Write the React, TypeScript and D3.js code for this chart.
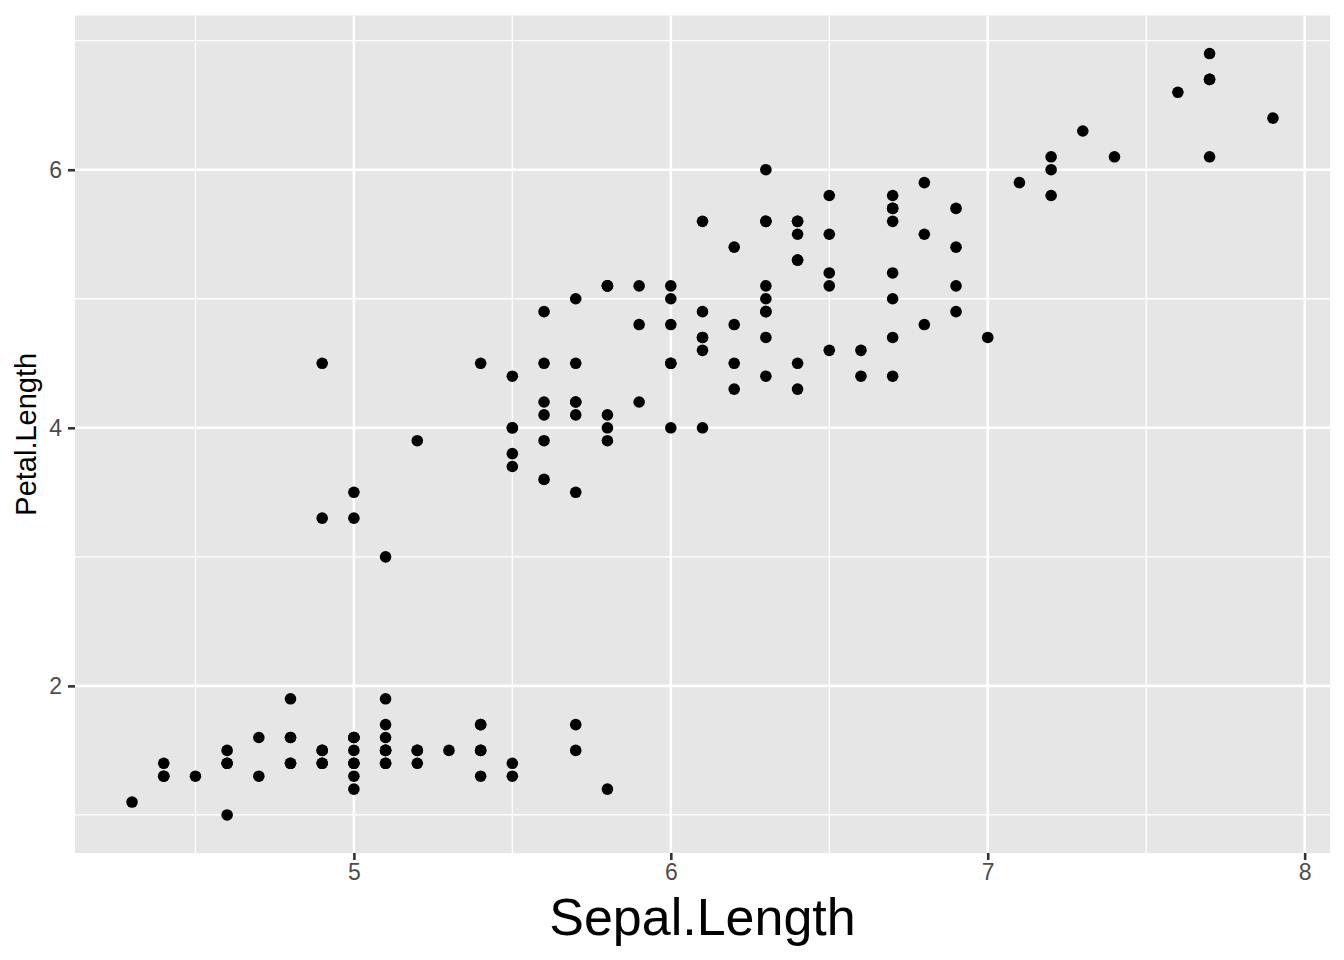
import { useEffect, useRef } from "react";
import * as d3 from "d3";

// iris: Sepal.Length vs Petal.Length
const sepalLength = [
  5.1, 4.9, 4.7, 4.6, 5.0, 5.4, 4.6, 5.0, 4.4, 4.9, 5.4, 4.8, 4.8, 4.3, 5.8, 5.7, 5.4, 5.1, 5.7, 5.1,
  5.4, 5.1, 4.6, 5.1, 4.8, 5.0, 5.0, 5.2, 5.2, 4.7, 4.8, 5.4, 5.2, 5.5, 4.9, 5.0, 5.5, 4.9, 4.4, 5.1,
  5.0, 4.5, 4.4, 5.0, 5.1, 4.8, 5.1, 4.6, 5.3, 5.0,
  7.0, 6.4, 6.9, 5.5, 6.5, 5.7, 6.3, 4.9, 6.6, 5.2, 5.0, 5.9, 6.0, 6.1, 5.6, 6.7, 5.6, 5.8, 6.2, 5.6,
  5.9, 6.1, 6.3, 6.1, 6.4, 6.6, 6.8, 6.7, 6.0, 5.7, 5.5, 5.5, 5.8, 6.0, 5.4, 6.0, 6.7, 6.3, 5.6, 5.5,
  5.5, 6.1, 5.8, 5.0, 5.6, 5.7, 5.7, 6.2, 5.1, 5.7,
  6.3, 5.8, 7.1, 6.3, 6.5, 7.6, 4.9, 7.3, 6.7, 7.2, 6.5, 6.4, 6.8, 5.7, 5.8, 6.4, 6.5, 7.7, 7.7, 6.0,
  6.9, 5.6, 7.7, 6.3, 6.7, 7.2, 6.2, 6.1, 6.4, 7.2, 7.4, 7.9, 6.4, 6.3, 6.1, 7.7, 6.3, 6.4, 6.0, 6.9,
  6.7, 6.9, 5.8, 6.8, 6.7, 6.7, 6.3, 6.5, 6.2, 5.9,
];

const petalLength = [
  1.4, 1.4, 1.3, 1.5, 1.4, 1.7, 1.4, 1.5, 1.4, 1.5, 1.5, 1.6, 1.4, 1.1, 1.2, 1.5, 1.3, 1.4, 1.7, 1.5,
  1.7, 1.5, 1.0, 1.7, 1.9, 1.6, 1.6, 1.5, 1.4, 1.6, 1.6, 1.5, 1.5, 1.4, 1.5, 1.2, 1.3, 1.4, 1.3, 1.5,
  1.3, 1.3, 1.3, 1.6, 1.9, 1.4, 1.6, 1.4, 1.5, 1.4,
  4.7, 4.5, 4.9, 4.0, 4.6, 4.5, 4.7, 3.3, 4.6, 3.9, 3.5, 4.2, 4.0, 4.7, 3.6, 4.4, 4.5, 4.1, 4.5, 3.9,
  4.8, 4.0, 4.9, 4.7, 4.3, 4.4, 4.8, 5.0, 4.5, 3.5, 3.8, 3.7, 3.9, 5.1, 4.5, 4.5, 4.7, 4.4, 4.1, 4.0,
  4.4, 4.6, 4.0, 3.3, 4.2, 4.2, 4.2, 4.3, 3.0, 4.1,
  6.0, 5.1, 5.9, 5.6, 5.8, 6.6, 4.5, 6.3, 5.8, 6.1, 5.1, 5.3, 5.5, 5.0, 5.1, 5.3, 5.5, 6.7, 6.9, 5.0,
  5.7, 4.9, 6.7, 4.9, 5.7, 6.0, 4.8, 4.9, 5.6, 5.8, 6.1, 6.4, 5.6, 5.1, 5.6, 6.1, 5.6, 5.5, 4.8, 5.4,
  5.6, 5.1, 5.1, 5.9, 5.7, 5.2, 5.0, 5.2, 5.4, 5.1,
];

const xTicks = [5, 6, 7, 8];
const xMinor = [4.5, 5.5, 6.5, 7.5];
const yTicks = [2, 4, 6];
const yMinor = [1, 3, 5, 7];

const App = () => {
  const svgRef = useRef<SVGSVGElement>(null);

  useEffect(() => {
    if (!svgRef.current) return;
    const svg = d3.select(svgRef.current);
    svg.selectAll("*").remove();

    const width = 1344;
    const height = 960;
    const panel = { left: 75, right: 1330, top: 15.5, bottom: 853 };
    const font = "Liberation Sans, Arial, Helvetica, sans-serif";

    const pts = sepalLength.map((x, i) => ({ x, y: petalLength[i] }));

    const [xmin, xmax] = d3.extent(sepalLength) as [number, number];
    const [ymin, ymax] = d3.extent(petalLength) as [number, number];
    const xPad = (xmax - xmin) * 0.05;
    const yPad = (ymax - ymin) * 0.05;

    const x = d3
      .scaleLinear()
      .domain([xmin - xPad, xmax + xPad])
      .range([panel.left, panel.right]);
    const y = d3
      .scaleLinear()
      .domain([ymin - yPad, ymax + yPad])
      .range([panel.bottom, panel.top]);

    svg.attr("viewBox", `0 0 ${width} ${height}`);

    svg
      .append("rect")
      .attr("width", width)
      .attr("height", height)
      .attr("fill", "#ffffff");

    // panel background
    svg
      .append("rect")
      .attr("x", panel.left)
      .attr("y", panel.top)
      .attr("width", panel.right - panel.left)
      .attr("height", panel.bottom - panel.top)
      .attr("fill", "#e6e6e6");

    const grid = svg.append("g").attr("stroke", "#ffffff");

    // minor grid
    grid
      .selectAll("line.xminor")
      .data(xMinor)
      .join("line")
      .attr("x1", (d) => x(d))
      .attr("x2", (d) => x(d))
      .attr("y1", panel.top)
      .attr("y2", panel.bottom)
      .attr("stroke-width", 1.3);
    grid
      .selectAll("line.yminor")
      .data(yMinor)
      .join("line")
      .attr("x1", panel.left)
      .attr("x2", panel.right)
      .attr("y1", (d) => y(d))
      .attr("y2", (d) => y(d))
      .attr("stroke-width", 1.3);

    // major grid
    grid
      .selectAll("line.xmajor")
      .data(xTicks)
      .join("line")
      .attr("x1", (d) => x(d))
      .attr("x2", (d) => x(d))
      .attr("y1", panel.top)
      .attr("y2", panel.bottom)
      .attr("stroke-width", 2.6);
    grid
      .selectAll("line.ymajor")
      .data(yTicks)
      .join("line")
      .attr("x1", panel.left)
      .attr("x2", panel.right)
      .attr("y1", (d) => y(d))
      .attr("y2", (d) => y(d))
      .attr("stroke-width", 2.6);

    // points
    svg
      .append("g")
      .selectAll("circle")
      .data(pts)
      .join("circle")
      .attr("cx", (d) => x(d.x))
      .attr("cy", (d) => y(d.y))
      .attr("r", 5.8)
      .attr("fill", "#000000");

    // x axis
    const xAxis = svg
      .append("g")
      .attr("transform", `translate(0,${panel.bottom})`)
      .call(d3.axisBottom(x).tickValues(xTicks).tickSize(7).tickPadding(4).tickFormat(d3.format("d")));
    xAxis.select(".domain").remove();
    xAxis.selectAll(".tick line").attr("stroke", "#333333").attr("stroke-width", 2.6);
    xAxis
      .selectAll(".tick text")
      .attr("fill", "#4d4d4d")
      .attr("font-size", 23)
      .attr("font-family", font);

    // y axis
    const yAxis = svg
      .append("g")
      .attr("transform", `translate(${panel.left},0)`)
      .call(d3.axisLeft(y).tickValues(yTicks).tickSize(7).tickPadding(6).tickFormat(d3.format("d")));
    yAxis.select(".domain").remove();
    yAxis.selectAll(".tick line").attr("stroke", "#333333").attr("stroke-width", 2.6);
    yAxis
      .selectAll(".tick text")
      .attr("fill", "#4d4d4d")
      .attr("font-size", 23)
      .attr("font-family", font);

    // titles
    svg
      .append("text")
      .attr("x", (panel.left + panel.right) / 2)
      .attr("y", 935)
      .attr("text-anchor", "middle")
      .attr("font-size", 52)
      .attr("font-family", font)
      .attr("fill", "#000000")
      .text("Sepal.Length");

    svg
      .append("text")
      .attr("transform", `translate(36,${(panel.top + panel.bottom) / 2}) rotate(-90)`)
      .attr("text-anchor", "middle")
      .attr("font-size", 29)
      .attr("font-family", font)
      .attr("fill", "#000000")
      .text("Petal.Length");
  }, []);

  return (
    <svg
      ref={svgRef}
      width={1344}
      height={960}
      style={{ position: "absolute", left: 0, top: 0 }}
    />
  );
};

export default App;
